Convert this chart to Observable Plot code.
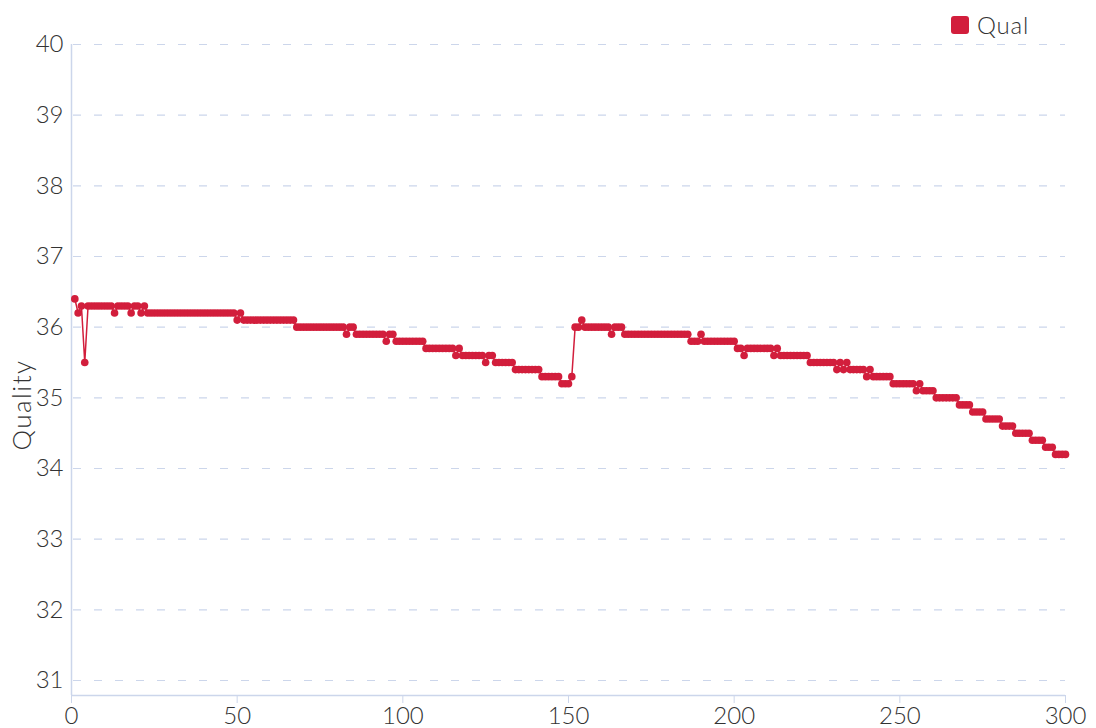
<!DOCTYPE html>
<html>
<head>
<meta charset="utf-8">
<script src="https://cdn.jsdelivr.net/npm/d3@7"></script>
<script src="https://cdn.jsdelivr.net/npm/@observablehq/plot@0.6"></script>
<style>
  html, body { margin: 0; padding: 0; background: #fff; }
  #wrap { position: relative; width: 1096px; height: 728px; font-family: Lato, "Open Sans", sans-serif; }
  #legend { position: absolute; left: 951px; top: 10px; display: flex; align-items: center; font-size: 24px; color: #333; font-weight: 300; letter-spacing: 0.8px; }
  #legend .sw { width: 18px; height: 18px; border-radius: 3px; background: #d21e3c; margin-right: 8px; }
  svg text { font-weight: 300; }
</style>
</head>
<body>
<div id="wrap">
  <div id="legend"><span class="sw"></span><span>Qual</span></div>
</div>
<script>
// Series: quality value per frame (frames 1..300)
const seriesName = "Qual";
const qual = [
  36.4, 36.2, 36.3, 35.5, 36.3, 36.3, 36.3, 36.3, 36.3, 36.3,
  36.3, 36.3, 36.2, 36.3, 36.3, 36.3, 36.3, 36.2, 36.3, 36.3,
  36.2, 36.3, 36.2, 36.2, 36.2, 36.2, 36.2, 36.2, 36.2, 36.2,
  36.2, 36.2, 36.2, 36.2, 36.2, 36.2, 36.2, 36.2, 36.2, 36.2,
  36.2, 36.2, 36.2, 36.2, 36.2, 36.2, 36.2, 36.2, 36.2, 36.1,
  36.2, 36.1, 36.1, 36.1, 36.1, 36.1, 36.1, 36.1, 36.1, 36.1,
  36.1, 36.1, 36.1, 36.1, 36.1, 36.1, 36.1, 36.0, 36.0, 36.0,
  36.0, 36.0, 36.0, 36.0, 36.0, 36.0, 36.0, 36.0, 36.0, 36.0,
  36.0, 36.0, 35.9, 36.0, 36.0, 35.9, 35.9, 35.9, 35.9, 35.9,
  35.9, 35.9, 35.9, 35.9, 35.8, 35.9, 35.9, 35.8, 35.8, 35.8,
  35.8, 35.8, 35.8, 35.8, 35.8, 35.8, 35.7, 35.7, 35.7, 35.7,
  35.7, 35.7, 35.7, 35.7, 35.7, 35.6, 35.7, 35.6, 35.6, 35.6,
  35.6, 35.6, 35.6, 35.6, 35.5, 35.6, 35.6, 35.5, 35.5, 35.5,
  35.5, 35.5, 35.5, 35.4, 35.4, 35.4, 35.4, 35.4, 35.4, 35.4,
  35.4, 35.3, 35.3, 35.3, 35.3, 35.3, 35.3, 35.2, 35.2, 35.2,
  35.3, 36.0, 36.0, 36.1, 36.0, 36.0, 36.0, 36.0, 36.0, 36.0,
  36.0, 36.0, 35.9, 36.0, 36.0, 36.0, 35.9, 35.9, 35.9, 35.9,
  35.9, 35.9, 35.9, 35.9, 35.9, 35.9, 35.9, 35.9, 35.9, 35.9,
  35.9, 35.9, 35.9, 35.9, 35.9, 35.9, 35.8, 35.8, 35.8, 35.9,
  35.8, 35.8, 35.8, 35.8, 35.8, 35.8, 35.8, 35.8, 35.8, 35.8,
  35.7, 35.7, 35.6, 35.7, 35.7, 35.7, 35.7, 35.7, 35.7, 35.7,
  35.7, 35.6, 35.7, 35.6, 35.6, 35.6, 35.6, 35.6, 35.6, 35.6,
  35.6, 35.6, 35.5, 35.5, 35.5, 35.5, 35.5, 35.5, 35.5, 35.5,
  35.4, 35.5, 35.4, 35.5, 35.4, 35.4, 35.4, 35.4, 35.4, 35.3,
  35.4, 35.3, 35.3, 35.3, 35.3, 35.3, 35.3, 35.2, 35.2, 35.2,
  35.2, 35.2, 35.2, 35.2, 35.1, 35.2, 35.1, 35.1, 35.1, 35.1,
  35.0, 35.0, 35.0, 35.0, 35.0, 35.0, 35.0, 34.9, 34.9, 34.9,
  34.9, 34.8, 34.8, 34.8, 34.8, 34.7, 34.7, 34.7, 34.7, 34.7,
  34.6, 34.6, 34.6, 34.6, 34.5, 34.5, 34.5, 34.5, 34.5, 34.4,
  34.4, 34.4, 34.4, 34.3, 34.3, 34.3, 34.2, 34.2, 34.2, 34.2
];
const frames = qual.map((_, i) => i + 1);
const xTicks = [0, 50, 100, 150, 200, 250, 300];
const yTicks = [31, 32, 33, 34, 35, 36, 37, 38, 39, 40];
const yLabel = "Quality";

const data = frames.map((f, i) => ({frame: f, value: qual[i]}));
const red = "#d21e3c";
const axisColor = "#ccd6eb";
const yMin = 30.788;

const chart = Plot.plot({
  width: 1096,
  height: 728,
  marginLeft: 71,
  marginRight: 31,
  marginTop: 44,
  marginBottom: 33,
  x: {domain: [0, 300]},
  y: {domain: [yMin, 40]},
  style: {fontFamily: 'Lato, "Open Sans", sans-serif', fontSize: "24px", color: "#333", background: "#fff", overflow: "visible"},
  marks: [
    Plot.ruleY(yTicks, {stroke: axisColor, strokeWidth: 1.2, strokeDasharray: "8,13", strokeDashoffset: -2}),
    Plot.ruleX([0], {stroke: axisColor, strokeWidth: 1.5}),
    Plot.ruleY([yMin], {stroke: axisColor, strokeWidth: 1.5}),
    Plot.axisX({ticks: xTicks, tickSize: 8, tickPadding: 3, stroke: axisColor, fill: "#333", fontSize: 24, label: null, tickFormat: d => String(d)}),
    Plot.axisY({ticks: yTicks, tickSize: 0, tickPadding: 8, fill: "#333", fontSize: 24, label: null, tickFormat: d => String(d)}),
    Plot.line(data, {x: "frame", y: "value", stroke: red, strokeWidth: 1.5}),
    Plot.dot(data, {x: "frame", y: "value", r: 3.8, fill: red, stroke: "none"}),
    Plot.text([yLabel], {frameAnchor: "left", textAnchor: "middle", rotate: -90, dx: -49, dy: 35, fontSize: 26, fill: "#333", style: "letter-spacing: 1px"})
  ]
});
chart.querySelectorAll("text").forEach(t => { if (t.textContent === yLabel) t.style.letterSpacing = "1.5px"; });
document.getElementById("wrap").prepend(chart);
</script>
</body>
</html>
